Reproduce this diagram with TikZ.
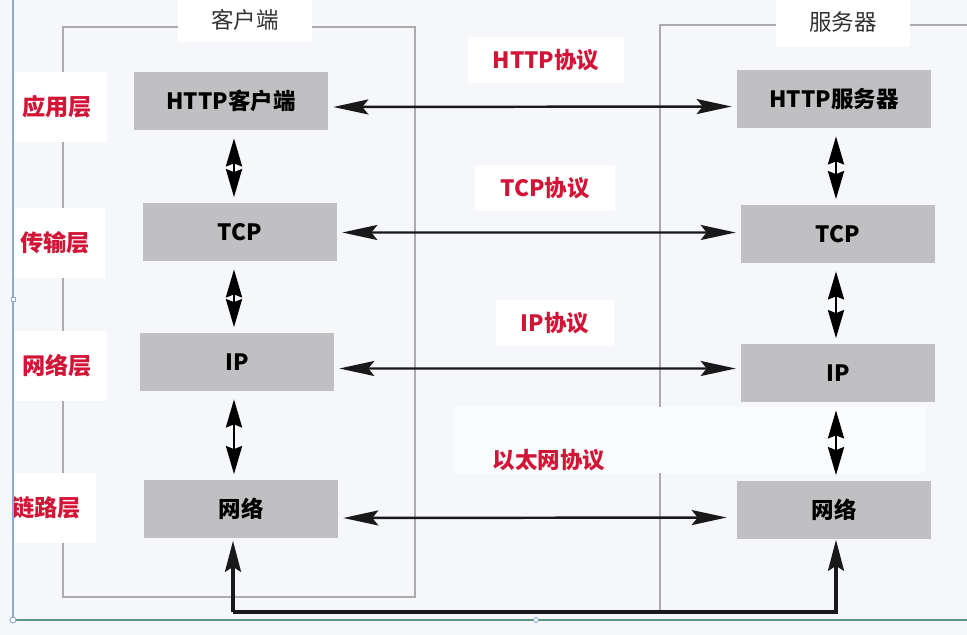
\documentclass[tikz,border=0pt]{standalone}
\usepackage{fontspec}
\setmainfont{Noto Sans CJK SC}
\usetikzlibrary{arrows.meta}
\definecolor{layerred}{RGB}{210,20,55}
\definecolor{boxgray}{RGB}{192,192,195}
\definecolor{framegray}{RGB}{172,172,176}
\definecolor{bggray}{RGB}{246,247,250}
\definecolor{selblue}{RGB}{140,170,210}
\definecolor{selgreen}{RGB}{90,150,130}
\tikzset{
  layerbox/.style={fill=boxgray, minimum width=3.88cm, minimum height=1.18cm, inner sep=0pt,
    font=\fontsize{12.8}{15}\selectfont\bfseries},
  layername/.style={fill=white, text=layerred, minimum width=2.0cm, minimum height=1.4cm,
    font=\fontsize{13.2}{15}\selectfont\bfseries},
  protoname/.style={fill=white, text=layerred, inner xsep=0.5cm, inner ysep=0.25cm,
    font=\fontsize{12.8}{15}\selectfont\bfseries},
  sidename/.style={fill=white, text=black!80, minimum width=2.7cm, minimum height=0.9cm,
    font=\fontsize{12.8}{15}\selectfont},
  peer/.style={<->, >={Stealth[length=0.7cm, width=0.3cm, inset=0.12cm]}, line width=1.4pt, black!90, shorten <=0.1cm, shorten >=0.1cm},
  stack/.style={<->, >={Stealth[length=0.56cm, width=0.32cm, inset=0.06cm]}, line width=1.6pt, black, shorten <=0.15cm, shorten >=0.1cm},
  wire/.style={->, >={Stealth[length=0.62cm, width=0.32cm, inset=0.1cm]}, line width=1.8pt, black!90},
}
\begin{document}
\begin{tikzpicture}[x=0.02cm, y=-0.02cm]
\fill[bggray] (0,0) rectangle (967,635);
\useasboundingbox (0,0) rectangle (967,635);
% frames of the two hosts
\draw[framegray, line width=1pt] (63,27) rectangle (415,597);
\draw[framegray, line width=1pt] (975,25) -- (660,25) -- (660,612);
\fill[white!60!bggray] (455,407) rectangle (925,473);
\node[sidename] (client) at (245,20) {客户端};
\node[sidename, minimum height=1cm] (server) at (843,22) {服务器};
% layer names
\node[layername] (app) at (57,107) {应用层};
\node[layername] (trans) at (55,243) {传输层};
\node[layername] (net) at (57,366) {网络层};
\node[layername] (link) at (46,508) {链路层};
% protocol names
\node[protoname] (pHttp) at (546,60) {HTTP协议};
\node[protoname] (pTcp) at (545,188) {TCP协议};
\node[protoname] (pIp) at (555,323) {IP协议};
\node[text=layerred, font=\fontsize{12.8}{15}\selectfont\bfseries] (pEth) at (549,460) {以太网协议};
% client stack
\node[layerbox] (cHttp) at (231,101) {HTTP客户端};
\node[layerbox] (cTcp) at (240,232) {TCP};
\node[layerbox] (cIp) at (237,362) {IP};
\node[layerbox] (cNet) at (241,509) {网络};
% server stack
\node[layerbox] (sHttp) at (834,99) {HTTP服务器};
\node[layerbox] (sTcp) at (838,234) {TCP};
\node[layerbox] (sIp) at (838,373) {IP};
\node[layerbox] (sNet) at (834,510) {网络};
% peer arrows
\draw[peer] ([yshift=-0.12cm] cHttp.east) -- ([yshift=-0.15cm] sHttp.west);
\draw[peer] ([yshift=-0.01cm] cTcp.east) -- ([yshift=0.03cm] sTcp.west);
\draw[peer] ([yshift=-0.13cm] cIp.east) -- ([yshift=0.09cm] sIp.west);
\draw[peer, shorten >=0.2cm] ([yshift=-0.18cm] cNet.east) -- ([yshift=-0.15cm] sNet.west);
% stack arrows
\coordinate (cAxis) at (234,0);
\coordinate (sAxis) at (836,0);
\draw[stack] (cHttp.south -| cAxis) -- (cTcp.north -| cAxis);
\draw[stack] (cTcp.south -| cAxis) -- (cIp.north -| cAxis);
\draw[stack] (cIp.south -| cAxis) -- (cNet.north -| cAxis);
\draw[stack] (sHttp.south -| sAxis) -- (sTcp.north -| sAxis);
\draw[stack] (sTcp.south -| sAxis) -- (sIp.north -| sAxis);
\draw[stack] (sIp.south -| sAxis) -- (sNet.north -| sAxis);
% physical wire
\coordinate (cEnd) at (233,612);
\coordinate (sEnd) at (836,612);
\draw[wire, shorten >=0.04cm] (cEnd) -- (cNet.south -| cEnd);
\draw[wire] (cEnd) -- (sEnd) -- (sNet.south -| sEnd);
% selection frame of the editor
\fill[bggray] (0,0) rectangle (13,635);
\draw[selblue, line width=0.6pt] (13,0) -- (13,620);
\draw[selgreen, line width=0.8pt] (13,620) -- (967,620);
\draw[selblue, fill=white, line width=0.5pt] (11,297) rectangle (15,301);
\draw[selblue, fill=white, line width=0.5pt] (536,620) circle (2.5);
\draw[selblue, fill=white, line width=0.5pt] (13,620) circle (3);
\end{tikzpicture}
\end{document}
